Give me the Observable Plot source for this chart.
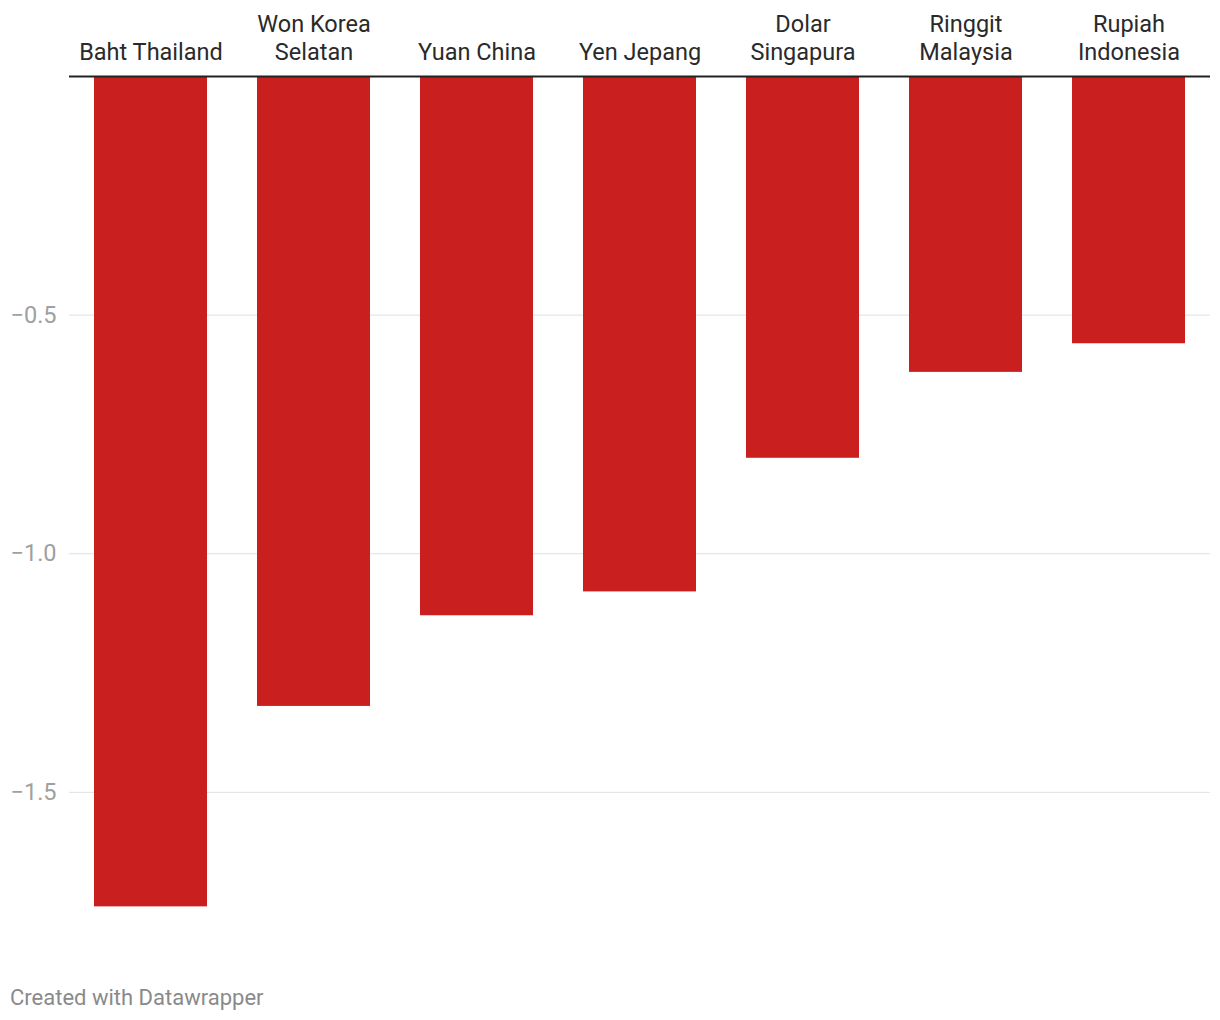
<!DOCTYPE html>
<html>
<head>
<meta charset="utf-8">
<script src="https://cdn.jsdelivr.net/npm/d3@7"></script>
<script src="https://cdn.jsdelivr.net/npm/@observablehq/plot@0.6"></script>
<style>
  body { margin: 0; background: #fff; font-family: Roboto, sans-serif; }
  #chart svg { display: block; }
  .footer { font-family: Roboto, sans-serif; font-size: 22px; color: #8a8a8a; margin: 50px 0 0 10px; }
</style>
</head>
<body>
<div id="chart"></div>
<div class="footer">Created with Datawrapper</div>
<script>
const currencies = ["Baht Thailand", "Won Korea\nSelatan", "Yuan China", "Yen Jepang", "Dolar\nSingapura", "Ringgit\nMalaysia", "Rupiah\nIndonesia"];
const changes = [-1.74, -1.32, -1.13, -1.08, -0.80, -0.62, -0.56];
const yTicks = [-0.5, -1.0, -1.5];

const data = currencies.map((c, i) => ({ currency: c, value: changes[i] }));

const chart = Plot.plot({
  width: 1220,
  height: 935,
  marginTop: 76,
  marginBottom: 0,
  marginLeft: 69,
  marginRight: 10,
  style: { fontFamily: "Roboto, sans-serif", background: "#fff" },
  x: { domain: currencies, paddingInner: 0.307, paddingOuter: 0.1535, axis: null },
  y: { domain: [-1.8, 0], axis: null },
  marks: [
    Plot.gridY(yTicks, { stroke: "#e0e0e0", strokeOpacity: 1, strokeWidth: 1 }),
    Plot.axisY(yTicks, {
      label: null,
      tickSize: 0, tickPadding: 0, textAnchor: "start", dx: -59,
      fontSize: 23.5, fill: "#a0a0a0",
      tickFormat: d => d3.format(".1f")(d).replace("-", "\u2212")
    }),
    Plot.barY(data, { x: "currency", y: "value", fill: "#c91f1f" }),
    Plot.ruleY([0], { stroke: "#222", strokeWidth: 2 }),
    Plot.axisX({
      label: null,
      anchor: "top", tickSize: 0, tickPadding: 17, fontSize: 23.5, fill: "#2a2a2a",
      lineAnchor: "bottom", lineHeight: 1.19
    })
  ]
});
document.getElementById("chart").appendChild(chart);
</script>
</body>
</html>
